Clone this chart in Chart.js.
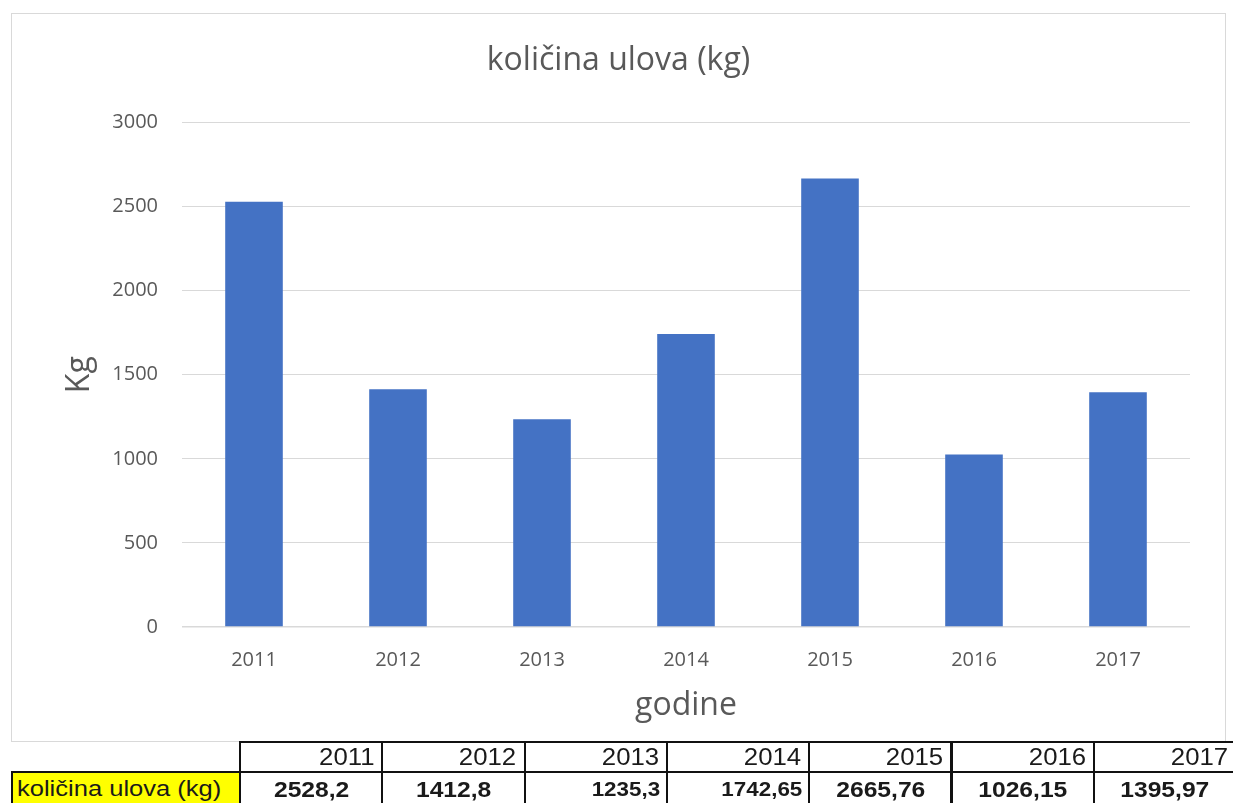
<!DOCTYPE html>
<html>
<head>
<meta charset="utf-8">
<script src="https://cdn.jsdelivr.net/npm/chart.js@4.4.1/dist/chart.umd.min.js"></script>
<style>
  html, body { margin: 0; padding: 0; background: #fff; }
  body { width: 1233px; height: 803px; position: relative; overflow: hidden; }
  #box { position: absolute; left: 11px; top: 13px; width: 1213px; height: 727px; border: 1px solid #d9d9d9; }
  #c { display: block; }
  #tbl { position: absolute; left: 0; top: 0; width: 1233px; height: 803px; pointer-events: none; }
  .cell { position: absolute; box-sizing: border-box; font-family: "Liberation Sans", Arial, sans-serif; color: #1a1a1a; white-space: nowrap; overflow: hidden; display: flex; align-items: center; }
  .cell span { display: inline-block; }
</style>
</head>
<body>
<div id="box"><canvas id="c" width="1213" height="727"></canvas></div>
<div id="tbl"></div>
<script>
// ---- data ----
const chartTitle = 'količina ulova (kg)';
const yAxisTitle = 'Kg';
const xAxisTitle = 'godine';
const years = ['2011', '2012', '2013', '2014', '2015', '2016', '2017'];
const ulovKg = [2528.2, 1412.8, 1235.3, 1742.65, 2665.76, 1026.15, 1395.97];
const yMin = 0;
const yMax = 3000;
const yStep = 500;
const rowLabel = 'količina ulova (kg)';

// ---- chart ----
const textColor = '#595959';
const fontFam = '"Open Sans", "Noto Sans", sans-serif';

new Chart(document.getElementById('c'), {
  type: 'bar',
  data: {
    labels: years,
    datasets: [{
      label: chartTitle,
      data: ulovKg,
      backgroundColor: '#4472C4',
      borderWidth: 0,
      categoryPercentage: 1.0,
      barPercentage: 0.4
    }]
  },
  options: {
    responsive: false,
    animation: false,
    layout: { padding: { left: 35, right: 35, top: 0, bottom: 0 } },
    plugins: {
      legend: { display: false },
      tooltip: { enabled: false },
      title: {
        display: true,
        text: chartTitle,
        color: textColor,
        font: { family: fontFam, size: 32, weight: 'normal', lineHeight: 1.2 },
        padding: { top: 28, bottom: 42 }
      }
    },
    scales: {
      x: {
        grid: { display: false },
        border: { display: false },
        ticks: { color: textColor, font: { family: fontFam, size: 20 }, padding: 13 },
        title: {
          display: true,
          text: xAxisTitle,
          color: textColor,
          font: { family: fontFam, size: 32, lineHeight: 1.2 },
          padding: { top: 0, bottom: 16 }
        },
        afterFit: (s) => { s.height = 114; }
      },
      y: {
        min: yMin,
        max: yMax,
        grid: {
          color: '#d9d9d9',
          lineWidth: (ctx) => (ctx.tick && ctx.tick.value === 0 ? 1.5 : 1),
          drawTicks: false
        },
        border: { display: false },
        ticks: {
          stepSize: yStep, color: textColor, font: { family: fontFam, size: 20 }, padding: 24,
          callback: (v) => String(v)
        },
        title: {
          display: true,
          text: yAxisTitle,
          color: textColor,
          font: { family: fontFam, size: 32, lineHeight: 1.2 },
          padding: { top: 14, bottom: 0 }
        },
        afterFit: (s) => { s.width = 135; }
      }
    }
  }
});

// ---- data table under the chart ----
const fmt = (v) => String(v).replace('.', ',');
const tbl = document.getElementById('tbl');
const colLeft0 = 239, colW = 142.3, row1Top = 741, row2Top = 771, rowH = 30, line = '2px solid #111';

function addCell(left, top, width, height, opts) {
  const d = document.createElement('div');
  d.className = 'cell';
  d.style.left = left + 'px';
  d.style.top = top + 'px';
  d.style.width = width + 'px';
  d.style.height = height + 'px';
  Object.assign(d.style, opts.style || {});
  const sp = document.createElement('span');
  sp.textContent = opts.text;
  Object.assign(sp.style, opts.spanStyle || {});
  d.appendChild(sp);
  tbl.appendChild(d);
}

// label cell (row 2)
addCell(11, row2Top, colLeft0 - 11 + 2, rowH + 4, {
  text: rowLabel,
  style: { background: '#ffff00', borderLeft: line, borderTop: line, borderRight: line, fontSize: '22px', paddingLeft: '4px', justifyContent: 'flex-start' },
  spanStyle: { transform: 'scaleX(1.16)', transformOrigin: 'left center' }
});

years.forEach((y, i) => {
  const left = colLeft0 + i * colW;
  // header
  addCell(left, row1Top, colW + 2, rowH + 2, {
    text: y,
    style: { borderLeft: line, borderTop: line, borderBottom: line, borderRight: line, fontSize: '23px', justifyContent: 'flex-end', paddingRight: '7px' },
    spanStyle: { transform: 'scaleX(1.12)', transformOrigin: 'right center' }
  });
  // value
  const rightAligned = (i === 2 || i === 3);
  addCell(left, row2Top, colW + 2, rowH + 4, {
    text: fmt(ulovKg[i]),
    style: { borderLeft: line, borderRight: line, fontSize: rightAligned ? '20px' : '22px', fontWeight: 'bold',
             justifyContent: rightAligned ? 'flex-end' : 'center', paddingRight: rightAligned ? '6px' : '0', paddingTop: '3px' },
    spanStyle: { transform: 'scaleX(1.12)', transformOrigin: rightAligned ? 'right center' : 'center center' }
  });
});
</script>
</body>
</html>
